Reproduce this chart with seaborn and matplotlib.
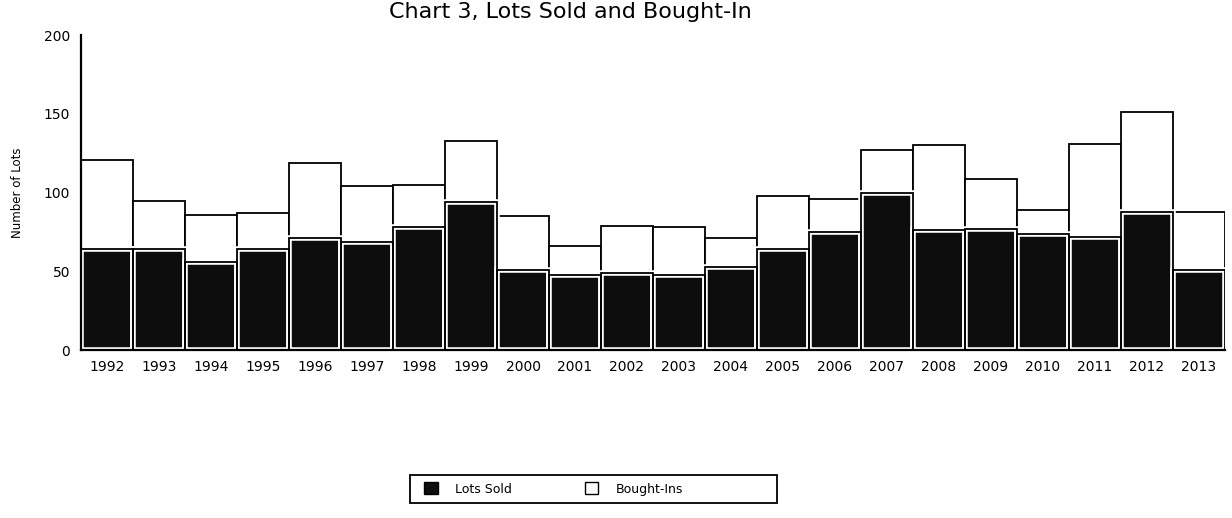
import matplotlib
matplotlib.use("Agg")
import matplotlib.pyplot as plt
from matplotlib.patches import Patch, Rectangle
import seaborn as sns
import pandas as pd

# values
years = ['1992', '1993', '1994', '1995', '1996', '1997', '1998', '1999', '2000', '2001', '2002',
         '2003', '2004', '2005', '2006', '2007', '2008', '2009', '2010', '2011', '2012', '2013']
lots_sold = [64, 64, 56, 64, 71, 69, 78, 94, 51, 48, 49, 48, 53, 64, 75, 100, 76, 77, 74, 72, 88, 51]
bought_ins = [57, 31, 30, 23, 48, 35, 27, 39, 34, 18, 30, 30, 18, 34, 21, 27, 54, 32, 15, 59, 63, 37]

df = pd.DataFrame({'year': years, 'sold': lots_sold, 'bought': bought_ins})
df['total'] = df['sold'] + df['bought']

sns.set_style("white")
plt.rcParams['font.family'] = ['DejaVu Sans']
plt.rcParams['text.color'] = 'black'
plt.rcParams['axes.labelcolor'] = 'black'
plt.rcParams['xtick.color'] = 'black'
plt.rcParams['ytick.color'] = 'black'

fig = plt.figure(figsize=(12.32, 5.18), dpi=100)
ax = fig.add_axes([0.066, 0.324, 0.928, 0.608])

# full stack first (white bought-ins on top), then the sold part over it
sns.barplot(data=df, x='year', y='total', color='white', saturation=1, width=1.0,
            edgecolor='black', linewidth=1.3, ax=ax)
sns.barplot(data=df, x='year', y='sold', color='#0d0d0d', saturation=1, width=1.0,
            edgecolor='white', linewidth=4.0, ax=ax)
sns.barplot(data=df, x='year', y='sold', fill=False, saturation=1, width=1.0,
            edgecolor='black', linewidth=1.3, ax=ax)

ax.set_ylim(0, 200)
ax.set_xlim(-0.5, len(years) - 0.5)
ax.set_yticks([0, 50, 100, 150, 200])
ax.tick_params(axis='both', length=0, labelsize=10)
ax.tick_params(axis='x', pad=7)
ax.tick_params(axis='y', pad=8)
ax.set_xlabel('')
ax.set_ylabel('Number of Lots', fontsize=8.5, labelpad=14)

sns.despine(ax=ax, top=True, right=True)
for side in ['left', 'bottom']:
    ax.spines[side].set_color('black')
    ax.spines[side].set_linewidth(1.6)

fig.text(0.463, 0.996, 'Chart 3, Lots Sold and Bought-In', ha='center', va='top', fontsize=16)

handles = [Patch(facecolor='#0d0d0d', edgecolor='black', label='Lots Sold'),
           Patch(facecolor='white', edgecolor='black', label='Bought-Ins')]
leg = fig.legend(handles=handles, loc='center left', bbox_to_anchor=(0.336, 0.056), ncol=2,
                 frameon=False, fontsize=9, handlelength=1.1, handleheight=1.1,
                 columnspacing=5.8, borderpad=0.3, handletextpad=1.4)

# legend box is wider than its entries in the original
fig.patches.append(Rectangle((0.333, 0.029), 0.298, 0.054, transform=fig.transFigure,
                             fill=False, edgecolor='black', linewidth=1.3))

fig.savefig('out.png', dpi=100)
